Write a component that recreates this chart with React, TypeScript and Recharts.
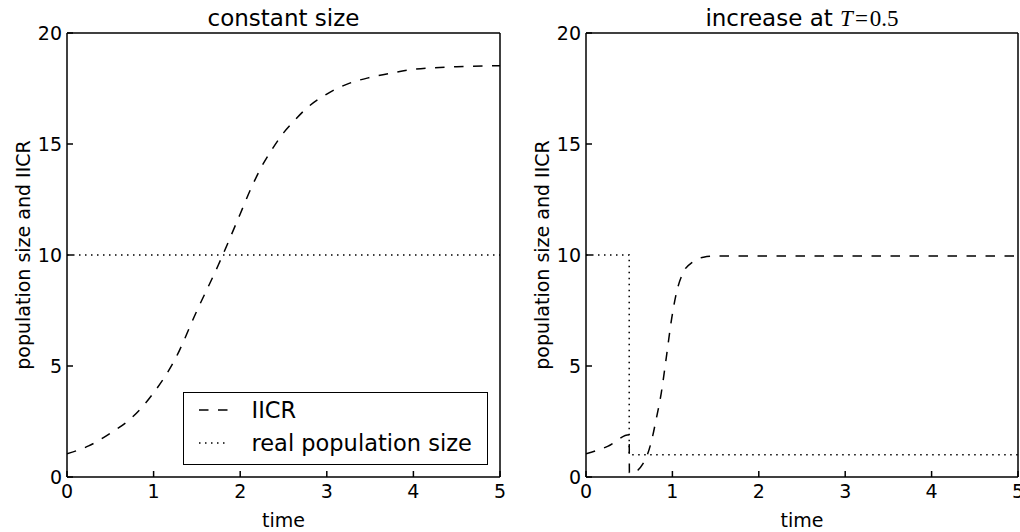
import React from "react";
import { LineChart, Line, XAxis, YAxis, Legend } from "recharts";

const FONT = '"DejaVu Sans", sans-serif';
const MATH = '"Liberation Serif", "DejaVu Serif", serif';

// axis ticks
const timeTicks = [0, 1, 2, 3, 4, 5];
const sizeTicks = [0, 5, 10, 15, 20];

// left panel: constant size
const constIicrT = [0, 0.25, 0.5, 0.75, 1, 1.25, 1.5, 1.75, 2, 2.125, 2.25, 2.375, 2.5, 2.625, 2.75, 3, 3.25, 3.5, 3.75, 4, 4.5, 5];
const constIicrV = [1.05, 1.4, 1.97, 2.68, 3.79, 5.32, 7.49, 9.57, 11.85, 13.0, 14.0, 14.8, 15.5, 16.05, 16.55, 17.25, 17.72, 18.0, 18.2, 18.36, 18.48, 18.53];
const constRealT = [0, 5];
const constRealV = [10, 10];

// right panel: increase at T=0.5
const incIicrT = [0, 0.25, 0.5, 0.502, 0.55, 0.6, 0.66, 0.71, 0.76, 0.81, 0.87, 0.93, 0.99, 1.05, 1.12, 1.24, 1.36, 1.5, 2, 3, 4, 5];
const incIicrV = [1.05, 1.38, 1.9, 0.2, 0.15, 0.3, 0.6, 1.0, 1.65, 2.56, 3.76, 5.4, 7.1, 8.35, 9.17, 9.7, 9.9, 9.95, 9.95, 9.95, 9.95, 9.95];
const incRealT = [0, 0.5, 0.5, 5];
const incRealV = [10, 10, 1, 1];

const IICR = "IICR";
const REAL = "real population size";

const DASH = "9.5 9.5";
const DOT = "1.5 4.5";
const dashOf: Record<string, string> = { [IICR]: DASH, [REAL]: DOT };

const zip = (ts: number[], vs: number[]) => ts.map((t, i) => ({ t, v: vs[i] }));

const ink = { stroke: "#000", strokeWidth: 1.5 };
const tickFont = { fontSize: 19, fill: "#000", fontFamily: FONT };

function LegendBox({ payload }: any) {
  // only the two real series, the frame helper has no dash style
  const items = (payload ?? []).filter((p: any) => dashOf[p.value]);
  return (
    <div
      style={{
        width: 305,
        height: 73,
        boxSizing: "border-box",
        border: "1.4px solid #000",
        background: "#fff",
      }}
    >
      <svg width={302} height={70} style={{ display: "block" }}>
        {items.map((p: any, i: number) => (
          <g key={p.value}>
            <line
              x1={15}
              x2={45}
              y1={17 + i * 33}
              y2={17 + i * 33}
              stroke="#000"
              strokeWidth={1.5}
              strokeDasharray={dashOf[p.value]}
            />
            <text x={67.5} y={24.5 + i * 33.3} fontSize={22.5} fontFamily={FONT} fill="#000">
              {p.value}
            </text>
          </g>
        ))}
      </svg>
    </div>
  );
}

function Panel({
  title,
  iicr,
  real,
  axisWidth,
  right,
  labelOffset,
  legend,
}: {
  title: (vb: any) => React.ReactNode;
  iicr: Array<{ t: number; v: number }>;
  real: Array<{ t: number; v: number }>;
  axisWidth: number;
  right: number;
  labelOffset: number;
  legend?: boolean;
}) {
  return (
    <LineChart width={510} height={532} margin={{ top: 32, right, bottom: 5, left: 0 }}>
      <XAxis
        xAxisId="b"
        type="number"
        dataKey="t"
        domain={[0, 5]}
        ticks={timeTicks}
        interval={0}
        allowDataOverflow
        height={50}
        tickSize={-6}
        tickMargin={14}
        axisLine={ink}
        tickLine={ink}
        tick={tickFont}
        label={{ value: "time", position: "insideBottom", offset: 0, fontSize: 19, fill: "#000", fontFamily: FONT }}
      />
      <XAxis
        xAxisId="top"
        orientation="top"
        type="number"
        dataKey="t"
        domain={[0, 5]}
        ticks={timeTicks}
        interval={0}
        allowDataOverflow
        height={1}
        tickSize={-6}
        axisLine={ink}
        tickLine={ink}
        tick={false}
        label={(p: any) => title(p.viewBox)}
      />
      <YAxis
        yAxisId="l"
        type="number"
        domain={[0, 20]}
        ticks={sizeTicks}
        interval={0}
        allowDataOverflow
        width={axisWidth}
        tickSize={-6}
        tickMargin={11}
        axisLine={ink}
        tickLine={ink}
        tick={tickFont}
        label={{
          value: "population size and IICR",
          angle: -90,
          position: "insideLeft",
          offset: labelOffset,
          fontSize: 19,
          fill: "#000",
          fontFamily: FONT,
          style: { textAnchor: "middle" },
        }}
      />
      <YAxis
        yAxisId="r"
        orientation="right"
        type="number"
        domain={[0, 20]}
        ticks={sizeTicks}
        interval={0}
        allowDataOverflow
        width={1}
        tickSize={-6}
        axisLine={ink}
        tickLine={ink}
        tick={false}
      />
      <Line
        xAxisId="b"
        yAxisId="l"
        data={iicr}
        dataKey="v"
        name={IICR}
        type="monotone"
        stroke="#000"
        strokeWidth={1.5}
        strokeDasharray={DASH}
        dot={false}
        activeDot={false}
        isAnimationActive={false}
      />
      <Line
        xAxisId="b"
        yAxisId="l"
        data={real}
        dataKey="v"
        name={REAL}
        type="linear"
        stroke="#000"
        strokeWidth={1.5}
        strokeDasharray={DOT}
        dot={false}
        activeDot={false}
        isAnimationActive={false}
      />
      {/* invisible copy so the top / right frame axes get a domain */}
      <Line
        xAxisId="top"
        yAxisId="r"
        data={real}
        dataKey="v"
        name="frame"
        legendType="none"
        stroke="none"
        dot={false}
        activeDot={false}
        isAnimationActive={false}
      />
      {legend && (
        <Legend
          layout="horizontal"
          verticalAlign="middle"
          align="center"
          content={<LegendBox />}
          wrapperStyle={{ left: 183, top: 392, width: 305, height: 73 }}
        />
      )}
    </LineChart>
  );
}

const plainTitle = (vb: any) => (
  <text
    x={vb.x + vb.width / 2}
    y={vb.y + vb.height - 7}
    textAnchor="middle"
    fontSize={23}
    fontFamily={FONT}
    fill="#000"
  >
    constant size
  </text>
);

const mathTitle = (vb: any) => (
  <text
    x={vb.x + vb.width / 2}
    y={vb.y + vb.height - 7}
    textAnchor="middle"
    fontSize={23}
    fill="#000"
    style={{ whiteSpace: "pre" }}
  >
    <tspan fontFamily={FONT}>{"increase at "}</tspan>
    <tspan fontFamily={MATH} fontStyle="italic">T</tspan>
    <tspan fontFamily={MATH} dx={2}>=</tspan>
    <tspan fontFamily={MATH} dx={2}>0.5</tspan>
  </text>
);

export default function App() {
  return (
    <div
      style={{
        position: "absolute",
        left: 0,
        top: 0,
        width: 1020,
        height: 532,
        overflow: "hidden",
        background: "#fff",
        display: "flex",
        fontFamily: FONT,
      }}
    >
      <Panel
        title={plainTitle}
        iicr={zip(constIicrT, constIicrV)}
        real={zip(constRealT, constRealV)}
        axisWidth={67}
        right={9}
        labelOffset={23}
        legend
      />
      <Panel
        title={mathTitle}
        iicr={zip(incIicrT, incIicrV)}
        real={zip(incRealT, incRealV)}
        axisWidth={76}
        right={1}
        labelOffset={32}
      />
    </div>
  );
}
